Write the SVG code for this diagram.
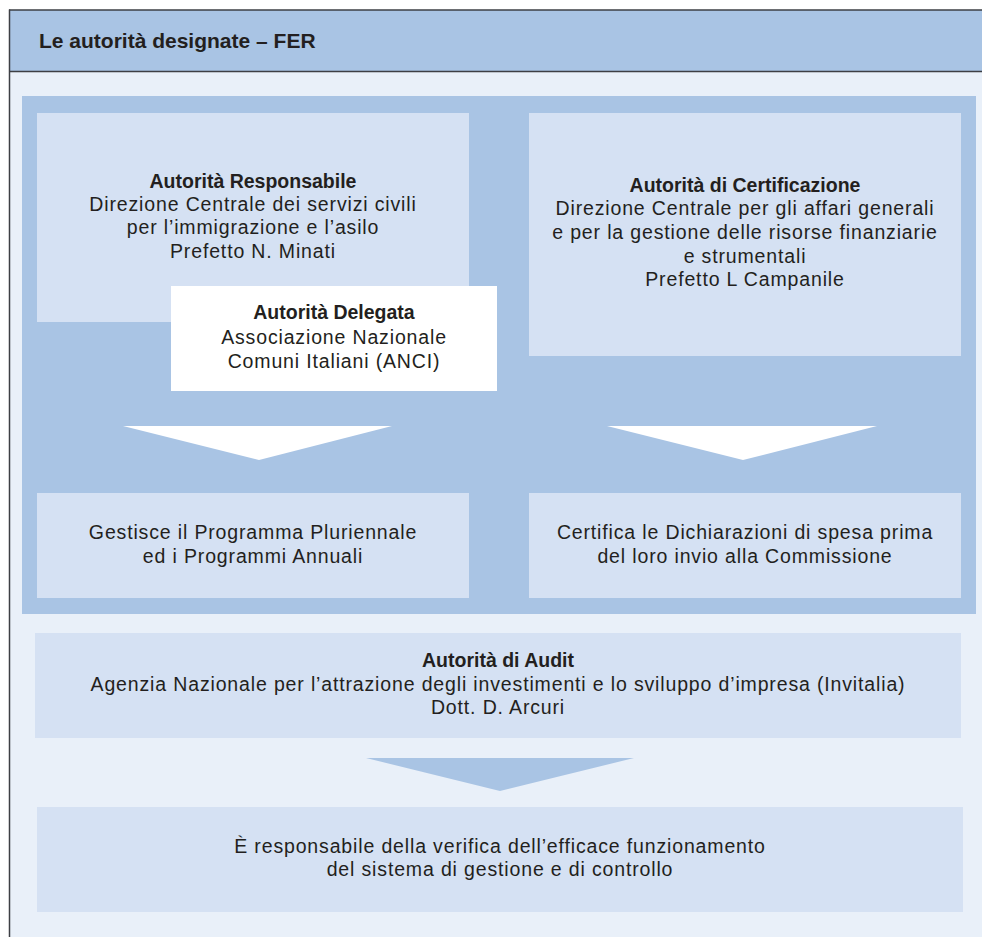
<svg xmlns="http://www.w3.org/2000/svg" width="982" height="937" viewBox="0 0 982 937">
<style>
.t{font-family:"Liberation Sans",Arial,sans-serif;font-size:19.5px;letter-spacing:0.85px;fill:#231f20;text-anchor:middle}
.b{font-weight:bold;letter-spacing:0}
.box{fill:#d5e1f3}
.wh{fill:#ffffff}
</style>
<rect x="0" y="0" width="982" height="937" fill="#ffffff"/>
<rect x="9" y="10" width="973" height="927" fill="#e9f0f9"/>
<rect x="9" y="10" width="973" height="61.5" fill="#a9c4e4"/>
<line x1="9" y1="10" x2="982" y2="10" stroke="#3d3f44" stroke-width="1.5"/>
<line x1="9" y1="71.5" x2="982" y2="71.5" stroke="#3d3f44" stroke-width="1.5"/>
<line x1="9.5" y1="9.5" x2="9.5" y2="937" stroke="#3d3f44" stroke-width="1.5"/>
<text x="39" y="47.5" class="t b" style="text-anchor:start;font-size:21px">Le autorità designate – FER</text>
<rect x="22" y="96" width="954" height="518" fill="#a9c4e4"/>
<g id="responsabile">
<rect x="37" y="113" width="432" height="209" class="box"/>
<text class="t"><tspan x="253" y="188" class="b">Autorità Responsabile</tspan><tspan x="253" y="211">Direzione Centrale dei servizi civili</tspan><tspan x="253" y="234">per l’immigrazione e l’asilo</tspan><tspan x="253" y="258">Prefetto N. Minati</tspan></text>
</g>
<g id="certificazione">
<rect x="529" y="113" width="432" height="243" class="box"/>
<text class="t"><tspan x="745" y="192" class="b">Autorità di Certificazione</tspan><tspan x="745" y="215">Direzione Centrale per gli affari generali</tspan><tspan x="745" y="239">e per la gestione delle risorse finanziarie</tspan><tspan x="745" y="263">e strumentali</tspan><tspan x="745" y="286">Prefetto L Campanile</tspan></text>
</g>
<g id="delegata">
<rect x="171" y="286" width="326" height="105" class="wh"/>
<text class="t"><tspan x="334" y="319" class="b">Autorità Delegata</tspan><tspan x="334" y="344">Associazione Nazionale</tspan><tspan x="334" y="368">Comuni Italiani (ANCI)</tspan></text>
</g>
<g id="gestisce">
<rect x="37" y="493" width="432" height="105" class="box"/>
<text class="t"><tspan x="253" y="539">Gestisce il Programma Pluriennale</tspan><tspan x="253" y="563">ed i Programmi Annuali</tspan></text>
</g>
<g id="certifica">
<rect x="529" y="493" width="432" height="105" class="box"/>
<text class="t"><tspan x="745" y="539">Certifica le Dichiarazioni di spesa prima</tspan><tspan x="745" y="563">del loro invio alla Commissione</tspan></text>
</g>
<g id="audit">
<rect x="35" y="633" width="926" height="105" class="box"/>
<text class="t"><tspan x="498" y="667" class="b">Autorità di Audit</tspan><tspan x="498" y="691">Agenzia Nazionale per l’attrazione degli investimenti e lo sviluppo d’impresa (Invitalia)</tspan><tspan x="498" y="714">Dott. D. Arcuri</tspan></text>
</g>
<g id="verifica">
<rect x="37" y="807" width="926" height="105" class="box"/>
<text class="t"><tspan x="500" y="853">È responsabile della verifica dell’efficace funzionamento</tspan><tspan x="500" y="876">del sistema di gestione e di controllo</tspan></text>
</g>
<g id="connectors">
<polygon points="123,426 392,426 259,460" fill="#ffffff"/>
<polygon points="607,426 877,426 743,460" fill="#ffffff"/>
<polygon points="366,758 634,758 500,791" fill="#a9c4e4"/>
</g>
</svg>
